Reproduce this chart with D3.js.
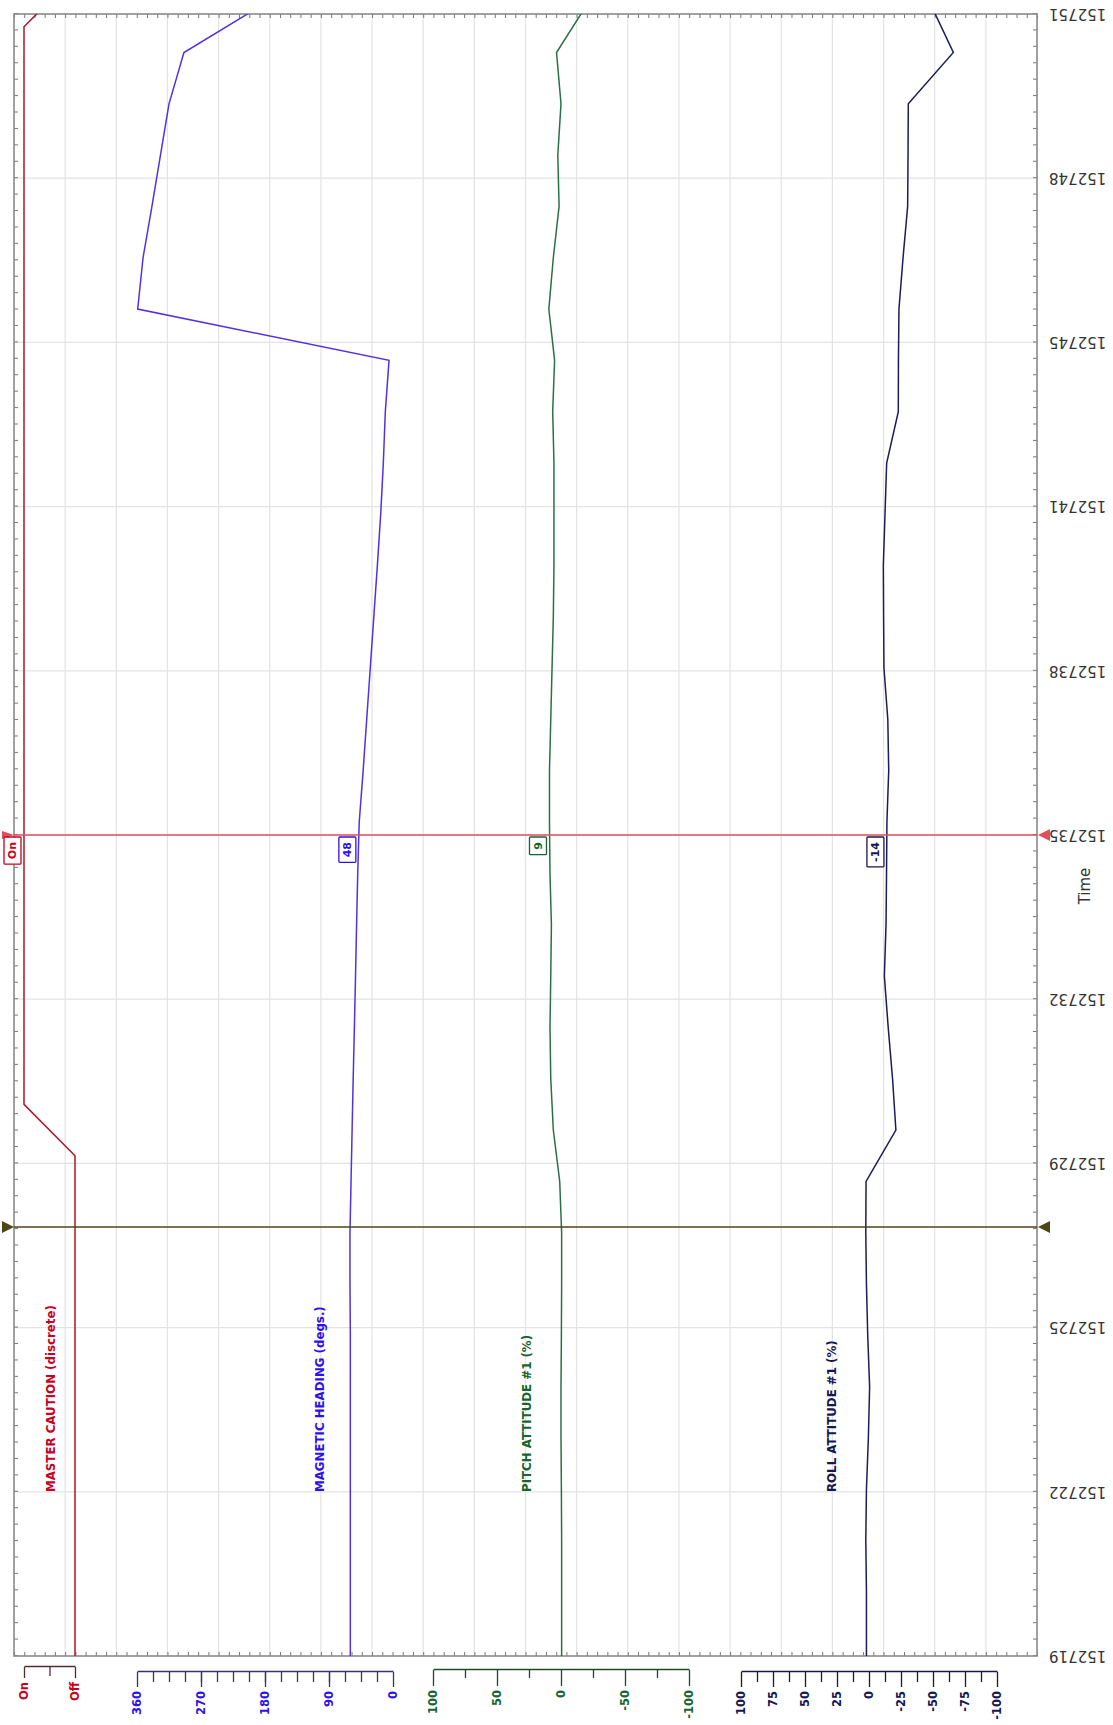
<!DOCTYPE html>
<html>
<head>
<meta charset="utf-8">
<script src="https://cdn.jsdelivr.net/npm/d3@7"></script>
<style>
  body { margin: 0; background: #fff; }
  svg { display: block; font-family: "DejaVu Sans", Verdana, sans-serif; }
</style>
</head>
<body>
<svg id="chart" width="1113" height="1725"></svg>
<script>
// ==================================
// Data (time = seconds after 15:27:00)
// ==================================
const sampleTimes = [18.75, 19.75, 20.75, 21.75, 22.75, 23.75, 24.75, 25.75, 26.75, 27.75,
                     28.75, 29.75, 30.75, 31.75, 32.75, 33.75, 34.75, 35.75, 36.75, 37.75,
                     38.75, 39.75, 40.75, 41.75, 42.75, 43.75, 44.75, 45.75, 46.75, 47.75,
                     48.75, 49.75, 50.75, 51.75];
const headingDeg = [60, 60, 60, 60, 60, 60, 60, 60, 60.5, 60.5,
                    59, 57.5, 56, 54.3, 52.7, 51.2, 49.6, 47.5, 42, 37,
                    32, 27, 22, 17.3, 13.6, 10.8, 5.6, 359, 351.5, 339,
                    327, 315, 294, 175];
const pitchPct = [-0.5, -0.5, -0.5, -0.5, -0.3, 0, 0, -0.3, -0.5, -0.5,
                  1, 6, 8, 8.6, 8, 7.5, 8.6, 9, 9, 8,
                  7, 6, 5.5, 5.5, 5.5, 6.5, 5, 9.5, 6, 1.5,
                  2.5, 0, 3.5, -22];
const rollPct = [2, 2, 2, 2.5, 2, 0.5, -0.5, 1, 2, 2.5,
                 2.3, -21, -18.4, -15, -12, -13.3, -13.7, -14, -15.4, -14.7,
                 -11.7, -11.4, -11.2, -12.5, -13.8, -22.9, -23, -23.4, -26.6, -30.2,
                 -30.5, -30.7, -65.9, -47];
const cautionTimes = [18.25, 29.25, 30.25, 51.25, 52.25];
const cautionState = [0, 0, 1, 1, 0];   // 1 = On, 0 = Off

const timeTickSecs = [19.5, 22.7, 25.9, 29.1, 32.3, 35.5, 38.7, 41.9, 45.1, 48.3, 51.5];
const timeTickLabels = ['152719', '152722', '152725', '152729', '152732', '152735',
                        '152738', '152741', '152745', '152748', '152751'];

const cursorTimes = [27.86, 35.5];
const readoutValues = [1, 48, 9, -14];   // master, heading, pitch, roll at red cursor

// ==================================
// Setting the Stage
// the chart is drawn in its own frame, then turned a quarter to the left
// ==================================
const W = 1725, H = 1113;
const svg = d3.select('#chart');
const g = svg.append('g').attr('transform', `translate(0,${W}) rotate(-90)`);

const plot = { left: 69, right: 1711, top: 14, bottom: 1037 };

const x = d3.scaleLinear().domain([19.5, 51.5]).range([plot.left, plot.right]);
const band = d3.scaleLinear().domain([0, 20]).range([plot.top, plot.bottom]);

const channels = [
  { name: 'MASTER CAUTION (discrete)', text: '#c8001e', line: '#a8182a', axis: '#5a2a2a',
    scale: d3.scaleLinear().domain([0, 1]).range([75, 24]), axisX: 58,
    major: [0, 1], minor: [0.5], big: 11, small: 9, fmt: d => d ? 'On' : 'Off',
    times: cautionTimes, values: cautionState, labelY: 51 },
  { name: 'MAGNETIC HEADING (degs.)', text: '#3010e8', line: '#5530e2', axis: '#3d2f6b',
    scale: d3.scaleLinear().domain([0, 360]).range([393, 137]), axisX: 53,
    major: [0, 90, 180, 270, 360], minor: d3.range(22.5, 360, 22.5), big: 15, small: 10, fmt: d => d,
    times: sampleTimes, values: headingDeg, labelY: 320 },
  { name: 'PITCH ATTITUDE #1 (%)', text: '#16652e', line: '#2a7047', axis: '#1f4a2a',
    scale: d3.scaleLinear().domain([-100, 100]).range([689, 433]), axisX: 55,
    major: [-100, -50, 0, 50, 100], minor: [-75, -25, 25, 75], big: 16, small: 8, fmt: d => d,
    times: sampleTimes, values: pitchPct, labelY: 527 },
  { name: 'ROLL ATTITUDE #1 (%)', text: '#161650', line: '#1c1c58', axis: '#1a1a40',
    scale: d3.scaleLinear().domain([-100, 100]).range([997, 741]), axisX: 53,
    major: d3.range(-100, 101, 25), minor: d3.range(-87.5, 100, 25), big: 15, small: 10, fmt: d => d,
    times: sampleTimes, values: rollPct, labelY: 832 }
];

// ==================================
// Grid + frame
// ==================================
g.append('g').selectAll('line').data(d3.range(1, 20)).enter().append('line')
  .attr('x1', plot.left).attr('x2', plot.right)
  .attr('y1', d => band(d)).attr('y2', d => band(d))
  .attr('stroke', '#e3e3e3').attr('stroke-width', 1.2);

g.append('g').selectAll('line').data(timeTickSecs.slice(1, -1)).enter().append('line')
  .attr('x1', d => x(d)).attr('x2', d => x(d))
  .attr('y1', plot.top).attr('y2', plot.bottom)
  .attr('stroke', '#e3e3e3').attr('stroke-width', 1.2);

const minorTimes = d3.range(101).map(i => 19.5 + i * 0.32);
const frameTicks = sel => sel.call(s => s.select('.domain').remove())
  .selectAll('line').attr('stroke', '#777');

g.append('g').attr('transform', `translate(0,${plot.bottom})`)
  .call(d3.axisBottom(x).tickValues(minorTimes).tickSize(-4).tickFormat(''))
  .call(frameTicks);
g.append('g').attr('transform', `translate(0,${plot.top})`)
  .call(d3.axisTop(x).tickValues(minorTimes).tickSize(-4).tickFormat(''))
  .call(frameTicks);
const edge = d3.scaleLinear().domain([0, 100]).range([plot.top, plot.bottom]);
g.append('g').attr('transform', `translate(${plot.left},0)`)
  .call(d3.axisLeft(edge).ticks(100).tickSize(-4).tickFormat(''))
  .call(frameTicks);
g.append('g').attr('transform', `translate(${plot.right},0)`)
  .call(d3.axisRight(edge).ticks(100).tickSize(-4).tickFormat(''))
  .call(frameTicks);

g.append('rect')
  .attr('x', plot.left).attr('y', plot.top)
  .attr('width', plot.right - plot.left).attr('height', plot.bottom - plot.top)
  .attr('fill', 'none').attr('stroke', '#8a8a8a').attr('stroke-width', 1.6);

// time labels
g.append('g').selectAll('text').data(timeTickSecs).enter().append('text')
  .attr('transform', d => `translate(${x(d)},${plot.bottom + 12}) rotate(-90)`)
  .attr('text-anchor', 'end').attr('dy', '0.35em')
  .attr('font-size', 15).attr('fill', '#333')
  .text((d, i) => timeTickLabels[i]);

g.append('text')
  .attr('x', 839).attr('y', 1085).attr('text-anchor', 'middle').attr('dy', '0.35em')
  .attr('font-size', 15).attr('fill', '#333').text('Time');

// ==================================
// Parameter axes + traces
// ==================================
g.append('clipPath').attr('id', 'plotClip').append('rect')
  .attr('x', plot.left).attr('y', plot.top)
  .attr('width', plot.right - plot.left).attr('height', plot.bottom - plot.top);

channels.forEach(c => {
  // minor ticks in their own group so the major join doesn't eat them
  const minorAx = g.append('g').attr('transform', `translate(${c.axisX},0)`)
    .call(d3.axisLeft(c.scale).tickValues(c.minor).tickSize(c.small).tickSizeOuter(0).tickFormat(''));
  minorAx.select('.domain').remove();
  minorAx.selectAll('line').attr('stroke', c.axis).attr('stroke-width', 1.3);

  const ax = g.append('g').attr('transform', `translate(${c.axisX},0)`)
    .call(d3.axisLeft(c.scale).tickValues(c.major).tickSize(c.big).tickSizeOuter(0)
      .tickPadding(4).tickFormat(c.fmt));
  ax.selectAll('path, line').attr('stroke', c.axis).attr('stroke-width', 1.3);
  ax.selectAll('text').attr('fill', c.text).attr('font-size', 11.5)
    .attr('font-weight', 'bold').attr('font-family', '"DejaVu Sans", Verdana, sans-serif');

  g.append('text')
    .attr('x', 233).attr('y', c.labelY).attr('dy', '0.35em')
    .attr('font-size', 11.8).attr('font-weight', 'bold').attr('fill', c.text)
    .text(c.name);

  const line = d3.line().x((d, i) => x(c.times[i])).y(d => c.scale(d));
  g.append('path').datum(c.values)
    .attr('clip-path', 'url(#plotClip)')
    .attr('d', line)
    .attr('fill', 'none').attr('stroke', c.line).attr('stroke-width', 1.5);
});

// ==================================
// Cursors
// ==================================
const cursorColors = ['#4d4614', '#e0505c'];
cursorTimes.forEach((t, i) => {
  const cx = x(t);
  g.append('line')
    .attr('x1', cx).attr('x2', cx).attr('y1', plot.top).attr('y2', plot.bottom)
    .attr('stroke', cursorColors[i]).attr('stroke-width', 1.6);
  g.append('path')
    .attr('d', `M${cx - 6},${plot.bottom + 13}L${cx + 6},${plot.bottom + 13}L${cx},${plot.bottom + 1}Z`)
    .attr('fill', cursorColors[i]);
  const s = i === 0 ? 6 : 4;
  g.append('path')
    .attr('d', `M${cx - s},2L${cx + s},2L${cx},${plot.top}Z`)
    .attr('fill', cursorColors[i]);
});

// readout boxes at the red cursor
const rx = x(cursorTimes[1]);
channels.forEach((c, i) => {
  const v = readoutValues[i];
  const yv = c.scale(v);
  const box = g.append('g');
  const txt = box.append('text')
    .attr('font-size', 11).attr('font-weight', 'bold').attr('fill', c.text)
    .attr('text-anchor', 'middle').attr('dy', '0.35em')
    .text(i === 0 ? (v ? 'On' : 'Off') : v);
  const w = txt.node().getComputedTextLength() + 10;
  const bx = rx - 2 - w, by = yv - 20;
  box.insert('rect', 'text')
    .attr('x', bx).attr('y', by).attr('width', w).attr('height', 17)
    .attr('fill', '#fff').attr('stroke', c.text).attr('stroke-width', 1.3).attr('rx', 1);
  txt.attr('x', bx + w / 2).attr('y', by + 8.5);
});
</script>
</body>
</html>
